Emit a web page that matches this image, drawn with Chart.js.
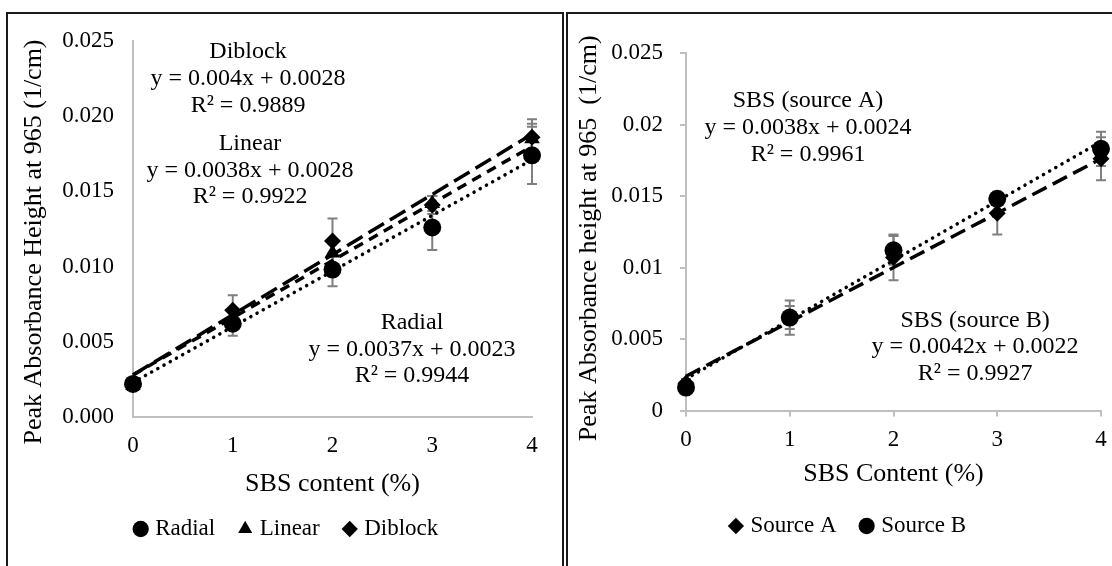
<!DOCTYPE html>
<html>
<head>
<meta charset="utf-8">
<script src="https://cdn.jsdelivr.net/npm/chart.js@4.4.1/dist/chart.umd.min.js"></script>
<style>
body { margin: 0; background: #fff; width: 1112px; height: 566px; overflow: hidden; position: relative; }
.panel { position: absolute; top: 12px; height: 620px; border: 2px solid #1a1a1a; border-bottom: none; box-sizing: border-box; }
#panelL { left: 6px; width: 558px; }
#panelR { left: 566px; width: 580px; }
canvas { position: absolute; }
</style>
</head>
<body>
<div class="panel" id="panelL"></div>
<div class="panel" id="panelR"></div>
<canvas id="chartL" width="554" height="552" style="left:8px;top:14px"></canvas>
<canvas id="chartR" width="544" height="552" style="left:568px;top:14px"></canvas>
<script>
// SBS content on the x axis (both panels)
const sbsContent = [0, 1, 2, 3, 4];
const trendX = [0, 4];

// left panel - SBS type
const radialValues = [0.0022, 0.0062, 0.0098, 0.0126, 0.0174];
const radialErrors = [0.0002, 0.0008, 0.0011, 0.0015, 0.0019];
const linearValues = [0.0021, 0.0066, 0.0109, 0.0142, 0.0185];
const linearErrors = [0.0002, 0.0005, 0.0008, 0.0005, 0.0010];
const diblockValues = [0.0022, 0.0071, 0.0117, 0.0141, 0.0186];
const diblockErrors = [0.0002, 0.0010, 0.0015, 0.0006, 0.0012];
const radialTrend = [0.0023, 0.0171];
const linearTrend = [0.0028, 0.0180];
const diblockTrend = [0.0028, 0.0188];
const leftYLabels = ['0.000', '0.005', '0.010', '0.015', '0.020', '0.025'];
const diblockFit = ['Diblock', 'y = 0.004x + 0.0028', 'R² = 0.9889'];
const linearFit = ['Linear', 'y = 0.0038x + 0.0028', 'R² = 0.9922'];
const radialFit = ['Radial', 'y = 0.0037x + 0.0023', 'R² = 0.9944'];

// right panel - SBS source
const sourceAValues = [0.0019, 0.0065, 0.0107, 0.0138, 0.0176];
const sourceAErrors = [0.0003, 0.0008, 0.0016, 0.0015, 0.0015];
const sourceBValues = [0.0016, 0.0065, 0.0112, 0.0148, 0.0183];
const sourceBErrors = [0.0003, 0.0012, 0.0010, 0.0004, 0.0012];
const sourceATrend = [0.0024, 0.0176];
const sourceBTrend = [0.0022, 0.0188];
const rightYLabels = ['0', '0.005', '0.01', '0.015', '0.02', '0.025'];
const sourceAFit = ['SBS (source A)', 'y = 0.0038x + 0.0024', 'R² = 0.9961'];
const sourceBFit = ['SBS (source B)', 'y = 0.0042x + 0.0022', 'R² = 0.9927'];

Chart.defaults.font.family = '"Liberation Serif", "Times New Roman", serif';
Chart.defaults.color = '#000';

const axisGray = '#bfbfbf';

function pts(xs, ys) {
	return xs.map((x, i) => ({x: x, y: ys[i]}));
}

function markers(label, values, errors, style, radius) {
	return {
		label: label,
		data: pts(sbsContent, values),
		errors: errors,
		pointStyle: style,
		pointRadius: radius,
		pointHoverRadius: radius,
		backgroundColor: '#000',
		borderColor: '#000',
		borderWidth: 0,
		showLine: false,
		clip: false
	};
}

function trend(values, dash, cap) {
	return {
		label: '',
		isTrend: true,
		data: pts(trendX, values),
		showLine: true,
		pointRadius: 0,
		borderColor: '#000',
		borderWidth: 3.5,
		borderDash: dash,
		borderCapStyle: cap,
		fill: false,
		clip: false
	};
}

// gray error bars, drawn under the markers
const errorBars = {
	id: 'errorBars',
	beforeDatasetsDraw(chart) {
		const {ctx, scales} = chart;
		ctx.save();
		ctx.strokeStyle = '#7f7f7f';
		ctx.lineWidth = 2;
		chart.data.datasets.forEach(ds => {
			if (!ds.errors) return;
			ds.data.forEach((p, i) => {
				const x = scales.x.getPixelForValue(p.x);
				const top = scales.y.getPixelForValue(p.y + ds.errors[i]);
				const bot = scales.y.getPixelForValue(p.y - ds.errors[i]);
				ctx.beginPath();
				ctx.moveTo(x, top); ctx.lineTo(x, bot);
				ctx.moveTo(x - 5, top); ctx.lineTo(x + 5, top);
				ctx.moveTo(x - 5, bot); ctx.lineTo(x + 5, bot);
				ctx.stroke();
			});
		});
		ctx.restore();
	}
};

// trendline equation labels
const fitLabels = {
	id: 'fitLabels',
	afterDraw(chart, args, opts) {
		const {ctx, scales} = chart;
		ctx.save();
		ctx.font = '24px "Liberation Serif"';
		ctx.fillStyle = '#000';
		ctx.textAlign = 'center';
		ctx.textBaseline = 'middle';
		opts.items.forEach(it => {
			const x = scales.x.getPixelForValue(it.x);
			const y = scales.y.getPixelForValue(it.y);
			it.lines.forEach((t, k) => ctx.fillText(t, x, y + k * 26.7));
		});
		ctx.restore();
	}
};

function makeChart(id, o) {
	const gridOpts = o.ticks
		? {display: true, drawOnChartArea: false, drawTicks: true, tickLength: 6, color: axisGray, lineWidth: 2}
		: {display: false, drawTicks: false};
	return new Chart(document.getElementById(id), {
		type: 'scatter',
		data: {datasets: o.datasets},
		plugins: [errorBars, fitLabels],
		options: {
			responsive: false,
			animation: false,
			devicePixelRatio: 1,
			layout: {padding: o.padding},
			plugins: {
				tooltip: {enabled: false},
				legend: {
					position: 'bottom',
					labels: {
						usePointStyle: true,
						boxWidth: 6,
						boxHeight: 11.5,
						padding: 27,
						color: '#000',
						font: {size: 23},
						filter: (item, data) => !data.datasets[item.datasetIndex].isTrend
					}
				},
				fitLabels: {items: o.labels}
			},
			scales: {
				x: {
					type: 'linear',
					min: 0,
					max: 4,
					ticks: {stepSize: 1, font: {size: 23}, padding: o.xTickPad, maxRotation: 0, color: '#000'},
					grid: gridOpts,
					border: {color: axisGray, width: 2},
					title: {display: true, text: o.xTitle, font: {size: 26}, color: '#000', padding: {top: 0, bottom: o.xTitlePad}},
					afterFit: s => { s.height = o.xHeight; s.paddingLeft = 0; s.paddingRight = 0; }
				},
				y: {
					min: 0,
					max: 0.025,
					ticks: {stepSize: 0.005, font: {size: 23}, padding: o.yTickPad, color: '#000',
						callback: (v, i) => o.yLabels[i]},
					grid: gridOpts,
					border: {color: axisGray, width: 2},
					title: {display: true, text: o.yTitle, font: {size: 26}, color: '#000', padding: {top: o.yTitlePad, bottom: 0}},
					afterFit: s => { s.width = o.yWidth; s.paddingTop = 0; s.paddingBottom = 0; }
				}
			}
		}
	});
}

makeChart('chartL', {
	datasets: [
		markers('Radial', radialValues, radialErrors, 'circle', 9),
		markers('Linear', linearValues, linearErrors, 'triangle', 9),
		markers('Diblock', diblockValues, diblockErrors, 'rectRot', 8.5),
		trend(radialTrend, [0.1, 7], 'round'),
		trend(linearTrend, [10, 7], 'butt'),
		trend(diblockTrend, [18, 7], 'butt')
	],
	padding: {left: 36, top: 27, right: 30, bottom: 15.5},
	ticks: false,
	xTitle: 'SBS content (%)',
	yTitle: 'Peak Absorbance Height at 965 (1/cm)    ',
	yLabels: leftYLabels,
	xHeight: 73.5,
	yWidth: 89,
	xTickPad: 15,
	yTickPad: 19,
	xTitlePad: -9.1,
	yTitlePad: -25.6,
	labels: [
		{x: 1.153, y: 0.02426, lines: diblockFit},
		{x: 1.173, y: 0.01818, lines: linearFit},
		{x: 2.797, y: 0.00628, lines: radialFit}
	]
});

makeChart('chartR', {
	datasets: [
		markers('Source A', sourceAValues, sourceAErrors, 'rectRot', 8.5),
		markers('Source B', sourceBValues, sourceBErrors, 'circle', 9),
		trend(sourceATrend, [16, 7], 'butt'),
		trend(sourceBTrend, [0.1, 7], 'round')
	],
	padding: {left: 30, top: 39, right: 11, bottom: 18.5},
	ticks: true,
	xTitle: 'SBS Content (%)',
	yTitle: 'Peak Absorbance height at 965  (1/cm)  ',
	yLabels: rightYLabels,
	xHeight: 77,
	yWidth: 88,
	xTickPad: 10,
	yTickPad: 17,
	xTitlePad: -2.1,
	yTitlePad: -24.6,
	labels: [
		{x: 1.176, y: 0.02165, lines: sourceAFit},
		{x: 2.786, y: 0.0063, lines: sourceBFit}
	]
});
</script>
</body>
</html>
